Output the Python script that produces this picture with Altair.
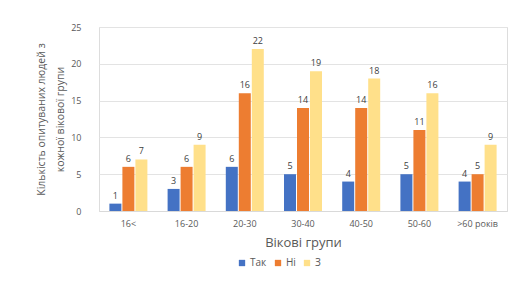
import altair as alt
import pandas as pd

groups = ["16<", "16-20", "20-30", "30-40", "40-50", "50-60", ">60 років"]
series_names = ["Так", "Ні", "З"]
tak = [1, 3, 6, 5, 4, 5, 4]
ni = [6, 6, 16, 14, 14, 11, 5]
z = [7, 9, 22, 19, 18, 16, 9]
colors = ["#4472C4", "#ED7D31", "#FFE08A"]

rows = []
for s, vals in zip(series_names, [tak, ni, z]):
    for g, v in zip(groups, vals):
        rows.append({"group": g, "series": s, "value": v})
df = pd.DataFrame(rows)

x = alt.X("group:N", sort=groups, title="Вікові групи",
          scale=alt.Scale(paddingInner=0.33, paddingOuter=0.17),
          axis=alt.Axis(labelAngle=0, ticks=False, domainColor="#d9d9d9",
                        labelColor="#595959", labelFontSize=9, labelPadding=8,
                        titleColor="#595959", titleFontSize=13, titleFontWeight="normal",
                        titlePadding=8))
xo = alt.XOffset("series:N", sort=series_names, scale=alt.Scale(paddingInner=0, paddingOuter=0))
y = alt.Y("value:Q", title=["Кількість опитуваних людей з", "кожної вікової групи"],
          scale=alt.Scale(domain=[0, 25]),
          axis=alt.Axis(values=[0, 5, 10, 15, 20, 25], ticks=False, domain=False,
                        gridColor="#e3e3e3", labelColor="#595959", labelFontSize=9,
                        labelPadding=18, titleColor="#595959", titleFontSize=10.5,
                        titleFontWeight="normal", titlePadding=5, titleLineHeight=19))

base = alt.Chart(df).encode(x=x, xOffset=xo, y=y)

bars = base.mark_bar(size=12).encode(
    color=alt.Color("series:N", sort=series_names,
                    scale=alt.Scale(domain=series_names, range=colors),
                    legend=alt.Legend(orient="none", legendX=138, legendY=231,
                                      direction="horizontal", title=None,
                                      symbolType="square", symbolSize=40, labelFontSize=10,
                                      labelColor="#595959", columnPadding=6, labelOffset=3))
)
labels = base.mark_text(dy=-8, fontSize=9, color="#404040").encode(text="value:Q")

chart = (bars + labels).properties(
    width=408, height=184,
    padding={"left": 28, "top": 15, "right": 5, "bottom": 5}
).configure_view(stroke=None).configure(font="Open Sans")

chart.save("out.html", embed_options={"renderer": "svg", "actions": False})
